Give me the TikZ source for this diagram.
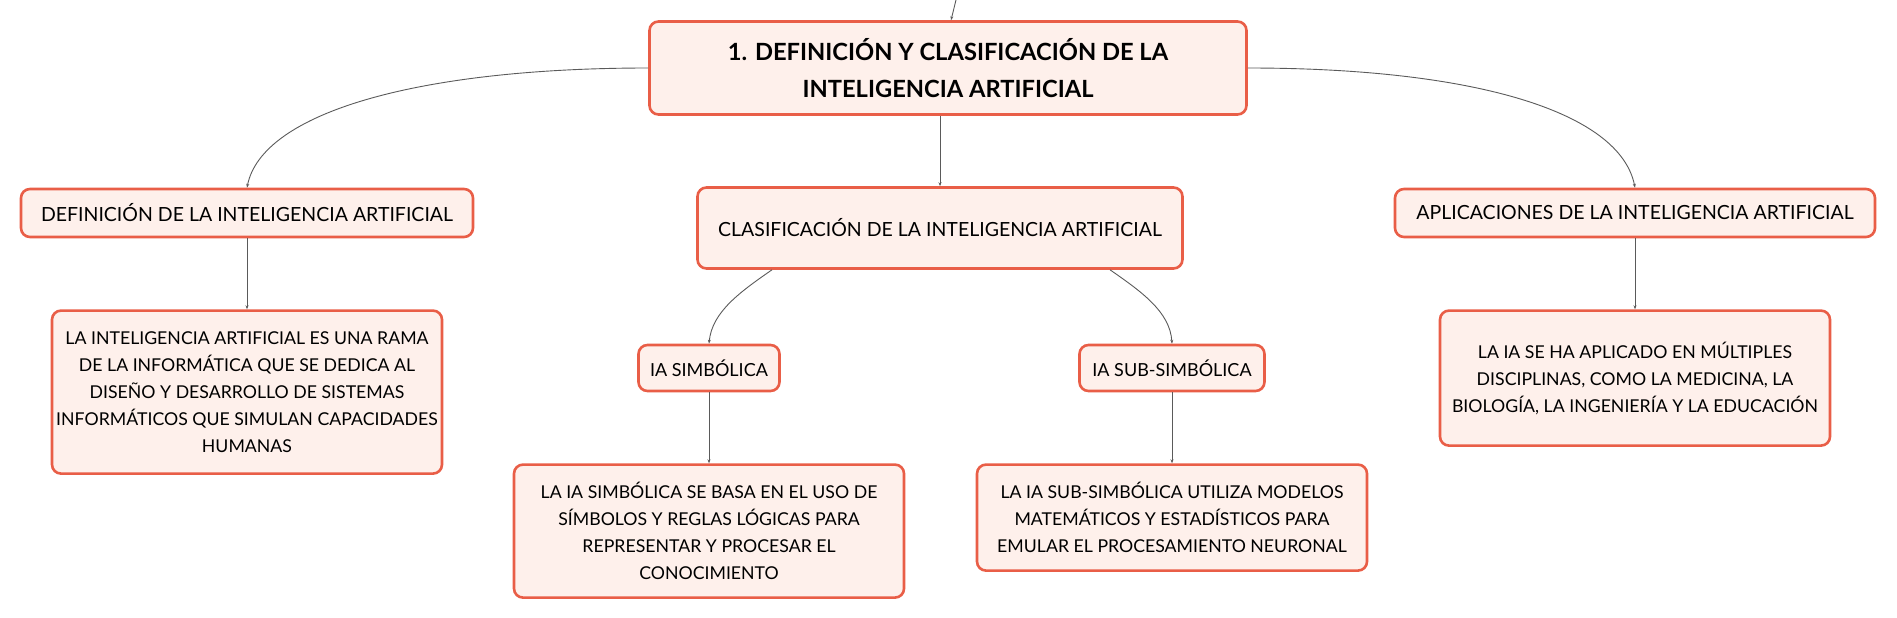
\documentclass[tikz,border=0pt]{standalone}
\usepackage{fontspec}
\setmainfont{Lato}
\usetikzlibrary{positioning,arrows.meta}
\definecolor{edgecolor}{RGB}{233,94,71}
\definecolor{elemcolor}{RGB}{254,240,235}
\definecolor{linkcolor}{RGB}{90,90,90}

\begin{document}
\begin{tikzpicture}[%
    x=1pt, y=-1pt,                    % work in pixels, top-down
    >={Stealth[length=4pt,width=3pt]}, % tiny tips, hardly seen
    node distance=71pt,                % box to child box
    ]
\tikzset{
  base/.style={draw=edgecolor, line width=2.6pt, fill=elemcolor, rounded corners=9pt, align=center, inner sep=0pt, font=\fontsize{18}{27}\selectfont},
  head/.style={base, minimum width=597pt, minimum height=93pt, font=\fontsize{23.7}{37}\selectfont\bfseries},
  topic/.style={base, minimum height=48pt, font=\fontsize{19.5}{27}\selectfont},
  leaf/.style={base, minimum width=390pt, font=\fontsize{17.7}{27}\selectfont},
  link/.style={draw=linkcolor, line width=0.9pt, ->},
}
\useasboundingbox (0,0) rectangle (1897,618);

\node [head] (t0) at (948,68) {1. DEFINICIÓN Y CLASIFICACIÓN DE LA\\INTELIGENCIA ARTIFICIAL};
\coordinate (up) at (956,0);

\node [topic,minimum width=452pt] (t1) at (247,213) {DEFINICIÓN DE LA INTELIGENCIA ARTIFICIAL};
\node [topic,minimum width=485pt,minimum height=81pt] (t2) at (940,228) {CLASIFICACIÓN DE LA INTELIGENCIA ARTIFICIAL};
\node [topic,minimum width=480pt] (t3) at (1635,213) {APLICACIONES DE LA INTELIGENCIA ARTIFICIAL};

\node [leaf,minimum height=163pt,below=of t1] (t4) {LA INTELIGENCIA ARTIFICIAL ES UNA RAMA\\DE LA INFORMÁTICA QUE SE DEDICA AL\\DISEÑO Y DESARROLLO DE SISTEMAS\\INFORMÁTICOS QUE SIMULAN CAPACIDADES\\HUMANAS};
\node [base,minimum width=141pt,minimum height=46pt] (t5) at (709,368) {IA SIMBÓLICA};
\node [base,minimum width=185pt,minimum height=46pt] (t6) at (1172,368) {IA SUB-SIMBÓLICA};
\node [leaf,minimum height=133pt,below=of t5] (t7) {LA IA SIMBÓLICA SE BASA EN EL USO DE\\SÍMBOLOS Y REGLAS LÓGICAS PARA\\REPRESENTAR Y PROCESAR EL\\CONOCIMIENTO};
\node [leaf,minimum height=106pt,below=of t6] (t8) {LA IA SUB-SIMBÓLICA UTILIZA MODELOS\\MATEMÁTICOS Y ESTADÍSTICOS PARA\\EMULAR EL PROCESAMIENTO NEURONAL};
\node [leaf,minimum height=135pt,below=of t3] (t9) {LA IA SE HA APLICADO EN MÚLTIPLES\\DISCIPLINAS, COMO LA MEDICINA, LA\\BIOLOGÍA, LA INGENIERÍA Y LA EDUCACIÓN};

%connect
\draw [link] (up) -- ([xshift=3pt]t0.north);
\draw [link] (t0.west) .. controls (420,68) and (262,112) .. (t1.north);
\draw [link] (t0.east) .. controls (1475,68) and (1620,112) .. (t3.north);
\draw [link] (t2.north |- t0.south) -- (t2.north);
\draw [link] ([xshift=-168pt]t2.south) .. controls (740,292) and (712,312) .. (t5.north);
\draw [link] ([xshift=170pt]t2.south) .. controls (1142,292) and (1170,312) .. (t6.north);
\draw [link] (t1) -- (t4);
\draw [link] (t5) -- (t7);
\draw [link] (t6) -- (t8);
\draw [link] (t3) -- (t9);

\end{tikzpicture}
\end{document}
